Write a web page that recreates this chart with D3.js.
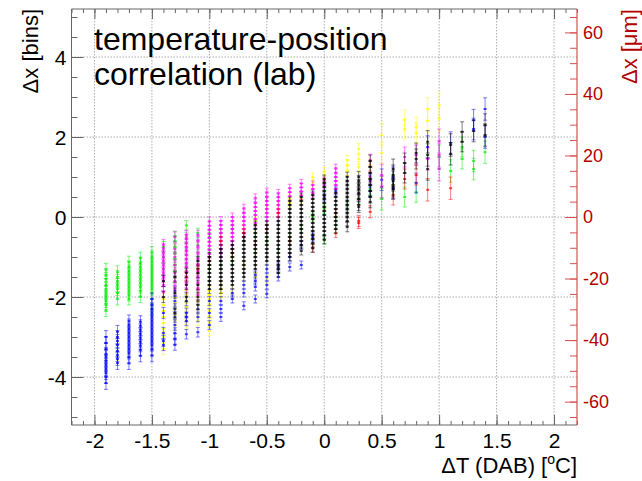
<!DOCTYPE html>
<html>
<head>
<meta charset="utf-8">
<script src="https://cdn.jsdelivr.net/npm/d3@7"></script>
<style>
  body { margin: 0; background: #fff; }
  svg { font-family: "Liberation Sans", Arial, sans-serif; }
</style>
</head>
<body>
<div id="chart"></div>
<script>
// temperature steps (DAB), one column of points each
var dT = [-1.9,-1.8,-1.7,-1.6,-1.5,-1.4,-1.3,-1.2,-1.1,-1.0,-0.9,-0.8,-0.7,-0.6,-0.5,-0.4,-0.3,-0.2,-0.1,0.0,
          0.1,0.2,0.3,0.4,0.5,0.6,0.7,0.8,0.9,1.0,1.1,1.2,1.3,1.4];

// error bar half-length per column [bins]
var colErr = [0.16,0.16,0.15,0.15,0.15,0.14,0.13,0.12,0.12,0.11,0.11,0.1,0.1,0.1,0.1,0.1,0.1,0.1,0.1,0.1,
              0.1,0.12,0.14,0.15,0.27,0.25,0.25,0.25,0.28,0.3,0.28,0.25,0.27,0.28];

// shift in bins, one list per column
var green = [
  [-1.32,-1.45,-1.55,-1.7,-1.8,-1.9,-2.0,-2.1,-2.2,-2.33],
  [-1.38,-1.5,-1.6,-1.7,-1.8,-1.9,-2.04],
  [-1.13,-1.25,-1.35,-1.45,-1.55,-1.65,-1.75,-1.85,-1.95,-2.05],
  [-1.03,-1.15,-1.25,-1.35,-1.45,-1.55,-1.65,-1.75,-1.85,-1.99],
  [-0.89,-1.0,-1.1,-1.2,-1.3,-1.4,-1.5,-1.6,-1.7,-1.8,-1.9,-2.3],
  [-0.75,-1.0,-1.3],
  [-0.48,-0.6,-0.75,-0.9,-1.05,-1.2,-1.35,-1.5],
  [-0.21,-0.5,-0.8,-1.2],
  [-0.4,-0.7,-1.0,-1.3],
  [-0.5,-0.9,-1.3],
  [-0.4,-1.2],
  [-0.3,-1.1],
  [-0.6],
  [-0.4,-0.9],
  [-0.1,-0.6],
  [-0.8],
  [-0.5],
  [-0.3],
  [0.0],
  [0.2,-0.58],
  [0.0,-0.3],
  [0.3],
  [0.5],
  [0.7],
  [0.75,0.45],
  [0.8],
  [0.5],
  [0.62],
  [],
  [1.5],
  [1.15],
  [1.75,1.45],
  [1.4,1.2],
  [1.62]
];

var blue = [
  [-3.0,-3.15,-3.3,-3.42,-3.5,-3.6,-3.7,-3.8,-3.9,-4.0,-4.15],
  [-2.87,-3.0,-3.1,-3.2,-3.35,-3.45,-3.55,-3.65],
  [-2.6,-2.7,-2.8,-2.9,-3.0,-3.1,-3.2,-3.3,-3.4,-3.5,-3.66],
  [-2.62,-2.72,-2.82,-2.92,-3.02,-3.12,-3.22,-3.32,-3.47],
  [-2.05,-2.2,-2.3,-2.4,-2.5,-2.6,-2.7,-2.8,-2.9,-3.0,-3.1,-3.2,-3.3,-3.47],
  [-2.4,-2.9,-3.1,-3.2],
  [-1.85,-2.1,-2.3,-2.5,-2.7,-2.9,-3.05,-3.2],
  [-2.1,-2.4,-2.5,-2.6,-2.93],
  [-2.3,-2.5,-2.88],
  [-2.1,-2.4,-2.7],
  [-2.1,-2.3,-2.5],
  [-1.9,-2.05],
  [-1.7,-1.9,-2.22],
  [-1.45,-1.6,-1.75,-2.05],
  [-1.3,-1.5,-1.7,-1.92],
  [-1.25,-1.5],
  [-1.0,-1.25],
  [-0.7,-1.2],
  [-0.5],
  [0.5],
  [0.65],
  [],
  [],
  [0.9,0.65],
  [0.93],
  [1.0,0.7],
  [],
  [0.85],
  [1.75],
  [],
  [1.85],
  [],
  [2.42,2.2],
  [2.7,2.0]
];

var yellow = [
  [],[],[],[],[],
  [-2.05,-2.2,-2.35,-2.5,-2.65,-2.8,-3.0,-3.3],
  [-2.0,-2.15,-2.3,-2.45,-2.6,-2.7],
  [-1.95,-2.05,-2.15,-2.25,-2.35,-2.45,-2.55,-2.7],
  [-1.8,-2.0,-2.2,-2.4,-2.6],
  [-1.85,-1.95,-2.05,-2.2,-2.35,-2.5,-2.65,-2.85],
  [-1.7,-1.9,-2.0],
  [-1.0,-1.8,-1.95],
  [-0.3,-1.2],
  [-0.1,-1.5],
  [0.2,-1.55],
  [0.3],
  [0.45,0.35],
  [0.45],
  [1.0,0.85],
  [1.14,1.0],
  [],
  [1.42,1.3,1.15],
  [1.7,1.45,1.25],
  [1.3],
  [2.05,1.6],
  [],
  [2.42,2.2],
  [2.25,2.1],
  [2.7,2.4],
  [2.8,2.45],
  [],[],[],[]
];

var magenta = [
  [],[],[],[],[],
  [-0.7,-0.8,-0.9,-1.0,-1.1,-1.2,-1.3,-1.4,-1.5,-1.6,-1.7,-1.88],
  [-0.5,-0.8,-1.0,-1.2,-1.4,-1.6,-1.8],
  [-0.45,-0.55,-0.65,-0.75,-0.85,-0.95,-1.05,-1.15,-1.25,-1.35,-1.5,-1.65,-1.8],
  [-0.45,-0.6,-0.75,-0.9,-1.05,-1.2,-1.35,-1.5,-1.65,-1.8,-1.95],
  [-0.11,-0.22,-0.32,-0.42,-0.52,-0.62,-0.72,-0.82,-0.92],
  [-0.1,-0.2,-0.3,-0.4,-0.5,-0.6,-0.7,-0.8,-0.9,-1.0],
  [0.0,-0.1,-0.2,-0.3,-0.4,-0.5,-0.6,-0.7],
  [0.22,0.1,0.0,-0.1,-0.2,-0.3,-0.4,-0.5],
  [0.48,0.35,0.25,0.15,0.05,-0.05,-0.15],
  [0.62,0.5,0.4,0.3,0.2,0.1,0.0,-0.1],
  [0.59,0.5,0.4,0.3,0.2,0.1,0.0],
  [0.72,0.62,0.52],
  [0.84,0.74,0.64,0.54],
  [0.8,0.7,0.6],
  [0.9,0.8],
  [1.22,1.1,1.0,0.9,0.8,0.7],
  [],
  [0.55],
  [1.42,1.0],
  [1.05,0.75],
  [],
  [1.5],
  [1.55],
  [1.45],
  [1.9,1.55,1.2],
  [],[],[],[]
];

var red = [
  [],[],[],[],[],[],[],
  [-1.5],
  [-1.3],
  [-1.1],
  [-0.6],
  [-0.9],
  [-0.4],
  [-0.7],
  [-0.3],
  [0.1],
  [-0.6],
  [],
  [-0.78],
  [],
  [0.1,-0.41],
  [],
  [-0.1,-0.15],
  [0.13],
  [],
  [0.55],
  [0.95],
  [1.05],
  [0.68],
  [],
  [0.72],
  [],[],[]
];

var black = [
  [],[],[],[],[],
  [-1.6,-2.0],
  [-1.5,-1.9,-2.4],
  [-1.4,-1.7,-2.0],
  [-1.1,-1.4,-1.7,-2.0,-2.2],
  [-1.0,-1.1,-1.2,-1.3,-1.4,-1.5,-1.6,-1.7,-1.8],
  [-0.8,-0.9,-1.0,-1.1,-1.2,-1.3,-1.4,-1.5,-1.6,-1.7,-1.8],
  [-0.7,-0.8,-0.9,-1.0,-1.1,-1.2,-1.3,-1.4,-1.5,-1.6,-1.7],
  [-0.5,-0.6,-0.7,-0.8,-0.9,-1.0,-1.1,-1.2,-1.3,-1.4,-1.5],
  [-0.2,-0.3,-0.4,-0.5,-0.6,-0.7,-0.8,-0.9,-1.0,-1.1,-1.2,-1.3],
  [-0.2,-0.3,-0.4,-0.5,-0.6,-0.7,-0.8,-0.9,-1.0,-1.1],
  [-0.1,-0.2,-0.3,-0.4,-0.5,-0.6,-0.7,-0.8,-0.9,-1.0,-1.1,-1.2,-1.3,-1.4],
  [0.4,0.3,0.2,0.1,0.0,-0.1,-0.2,-0.3,-0.4,-0.5,-0.6,-0.7,-0.8,-0.9,-1.0],
  [0.5,0.4,0.3,0.2,0.1,0.0,-0.1,-0.2,-0.3,-0.4,-0.5,-0.6,-0.7,-0.85],
  [0.55,0.45,0.35,0.25,0.15,0.05,-0.05,-0.15,-0.25,-0.35,-0.45,-0.55,-0.65,-0.78],
  [0.95,0.85,0.75,0.65,0.55,0.45,0.35,0.25,0.15,0.05,-0.05,-0.15,-0.25,-0.35,-0.45,-0.57],
  [0.6,0.5,0.4,0.3,0.2,0.1,0.0,-0.1,-0.2,-0.3],
  [1.0,0.9,0.8,0.7,0.6,0.5,0.4,0.3,0.2,0.1,0.0,-0.1,-0.25],
  [1.0,0.9,0.8,0.7,0.6,0.45,0.3,0.25],
  [1.4,1.25,1.1,0.95,0.8,0.65,0.5,0.38],
  [],
  [1.2,1.05,0.9,0.75,0.7],
  [1.35,1.1],
  [1.6,1.45],
  [1.88,1.55,1.2],
  [],
  [1.8,1.58],
  [2.13,1.88],
  [2.15],
  [2.3,2.05]
];

var binsToUm = 13;   // 1 bin = 13 um (right axis)

var W = 642, H = 481;
var margin = {top: 9, right: 65, bottom: 56, left: 71.5};

var svg = d3.select("#chart").append("svg")
  .attr("width", W).attr("height", H);

var x = d3.scaleLinear().domain([-2.2, 2.2]).range([margin.left, W - margin.right]);
var y = d3.scaleLinear().domain([-5.2, 5.2]).range([H - margin.bottom, margin.top]);
var yR = d3.scaleLinear().domain([-5.2 * binsToUm, 5.2 * binsToUm]).range([H - margin.bottom, margin.top]);

var x0 = x.range()[0], x1 = x.range()[1], y0 = y.range()[0], y1 = y.range()[1];

// grid
var xMajor = [-2, -1.5, -1, -0.5, 0, 0.5, 1, 1.5, 2];
var yMajor = [-4, -2, 0, 2, 4];
svg.append("g").selectAll("line").data(xMajor).join("line")
  .attr("x1", d => x(d)).attr("x2", d => x(d)).attr("y1", y1).attr("y2", y0)
  .attr("stroke", "#999").attr("stroke-dasharray", "1.5,1.5").attr("stroke-width", 0.8);
svg.append("g").selectAll("line").data(yMajor).join("line")
  .attr("x1", x0).attr("x2", x1).attr("y1", d => y(d)).attr("y2", d => y(d))
  .attr("stroke", "#999").attr("stroke-dasharray", "1.5,1.5").attr("stroke-width", 0.8);

// points with error bars
var series = [
  {vals: green,   color: "#00ee00"},
  {vals: yellow,  color: "#ffff00"},
  {vals: blue,    color: "#0000ff"},
  {vals: magenta, color: "#ff00ff"},
  {vals: red,     color: "#ff0000"},
  {vals: black,   color: "#000000"}
];
var pts = [];
series.forEach(function(s) {
  s.vals.forEach(function(col, i) {
    col.forEach(function(v) { pts.push({x: dT[i], y: v, e: colErr[i], c: s.color}); });
  });
});

var pg = svg.append("g").selectAll("g").data(pts).join("g")
  .attr("stroke", d => d.c).attr("fill", d => d.c);
pg.append("line")
  .attr("x1", d => x(d.x)).attr("x2", d => x(d.x))
  .attr("y1", d => y(d.y + d.e)).attr("y2", d => y(d.y - d.e))
  .attr("stroke-width", 1).attr("opacity", 0.5);
pg.append("path")
  .attr("d", d => "M" + (x(d.x) - 2) + "," + y(d.y + d.e) + "h4M" + (x(d.x) - 2) + "," + y(d.y - d.e) + "h4")
  .attr("stroke-width", 1).attr("opacity", 0.5);
pg.append("rect")
  .attr("x", d => x(d.x) - 1.5).attr("y", d => y(d.y) - 1)
  .attr("width", 3).attr("height", 2)
  .attr("stroke", "none").attr("opacity", 0.7);

// axes
var axisCol = "#666", redLine = "#d65050", redText = "#b30000";
var fmt = d => String(d);

function styleAxis(g, col, size) {
  g.select(".domain").remove();
  g.selectAll("line").attr("stroke", col);
  g.selectAll("text").attr("font-size", size).attr("font-family", "Liberation Sans, Arial, sans-serif");
}

// bottom
svg.append("g").attr("transform", "translate(0," + y0 + ")")
  .call(d3.axisBottom(x).tickValues(d3.range(-22, 23).map(d => d / 10)).tickSize(-4).tickFormat(""))
  .call(g => styleAxis(g, axisCol, 0));
svg.append("g").attr("transform", "translate(0," + y0 + ")")
  .call(d3.axisBottom(x).tickValues(xMajor).tickSize(-10).tickPadding(8).tickFormat(fmt))
  .call(g => styleAxis(g, axisCol, 21))
  .call(g => g.selectAll("text").attr("fill", "#000"));
// top
svg.append("g").attr("transform", "translate(0," + y1 + ")")
  .call(d3.axisTop(x).tickValues(d3.range(-22, 23).map(d => d / 10)).tickSize(-4).tickFormat(""))
  .call(g => styleAxis(g, axisCol, 0));
svg.append("g").attr("transform", "translate(0," + y1 + ")")
  .call(d3.axisTop(x).tickValues(xMajor).tickSize(-10).tickFormat(""))
  .call(g => styleAxis(g, axisCol, 0));
// left
svg.append("g").attr("transform", "translate(" + x0 + ",0)")
  .call(d3.axisLeft(y).tickValues(d3.range(-10, 11).map(d => d / 2)).tickSize(-6).tickFormat(""))
  .call(g => styleAxis(g, axisCol, 0));
svg.append("g").attr("transform", "translate(" + x0 + ",0)")
  .call(d3.axisLeft(y).tickValues(yMajor).tickSize(-12).tickPadding(5).tickFormat(fmt))
  .call(g => styleAxis(g, axisCol, 21))
  .call(g => g.selectAll("text").attr("fill", "#000").attr("dy", "0.36em"));
// right (um)
svg.append("g").attr("transform", "translate(" + x1 + ",0)")
  .call(d3.axisRight(yR).tickValues(d3.range(-65, 66, 5)).tickSize(-7).tickFormat(""))
  .call(g => styleAxis(g, redLine, 0));
svg.append("g").attr("transform", "translate(" + x1 + ",0)")
  .call(d3.axisRight(yR).tickValues([-60, -40, -20, 0, 20, 40, 60]).tickSize(-12).tickPadding(6).tickFormat(fmt))
  .call(g => styleAxis(g, redLine, 18))
  .call(g => g.selectAll("text").attr("fill", redText));

// frame
svg.append("path")
  .attr("d", "M" + x1 + "," + y1 + "H" + x0 + "V" + y0 + "H" + x1)
  .attr("fill", "none").attr("stroke", axisCol).attr("stroke-width", 1);
svg.append("line")
  .attr("x1", x1).attr("x2", x1).attr("y1", y1).attr("y2", y0)
  .attr("stroke", redLine).attr("stroke-width", 1.2);

// titles
svg.append("text")
  .attr("transform", "translate(38," + y1 + ") rotate(-90)")
  .attr("text-anchor", "end").attr("font-size", 22).attr("fill", "#000")
  .text("\u0394x [bins]");
svg.append("text")
  .attr("transform", "translate(637," + y1 + ") rotate(-90)")
  .attr("text-anchor", "end").attr("font-size", 22).attr("fill", redText)
  .text("\u0394x [\u03bcm]");

var xt = svg.append("text")
  .attr("x", x1).attr("y", 473)
  .attr("text-anchor", "end").attr("font-size", 22).attr("fill", "#000");
xt.append("tspan").text("\u0394T (DAB) [");
xt.append("tspan").attr("font-size", 14).attr("dy", -9).text("o");
xt.append("tspan").attr("dy", 9).text("C]");

var title = svg.append("text").attr("font-size", 32).attr("fill", "#000");
title.append("tspan").attr("x", 94).attr("y", 50).text("temperature-position");
title.append("tspan").attr("x", 94).attr("y", 85).text("correlation (lab)");
</script>
</body>
</html>
